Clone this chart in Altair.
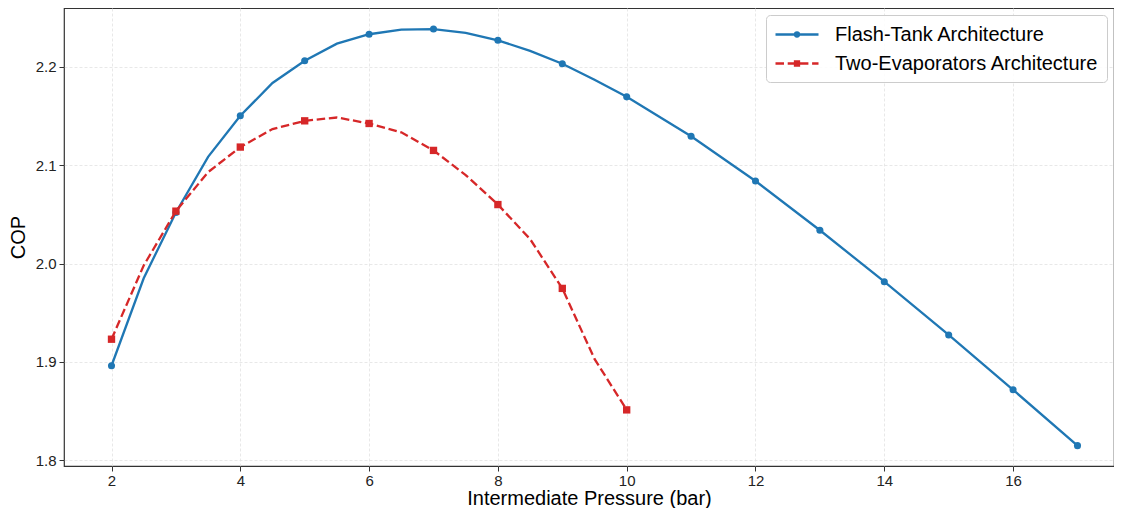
import altair as alt
import pandas as pd

# ---- data ----
ft_name = "Flash-Tank Architecture"
te_name = "Two-Evaporators Architecture"

ft_x = [2, 2.5, 3, 3.5, 4, 4.5, 5, 5.5, 6, 6.5, 7, 7.5, 8, 8.5, 9, 9.5, 10,
        11, 12, 13, 14, 15, 16, 17]
ft_y = [1.896, 1.985, 2.052, 2.1085, 2.1504, 2.1837, 2.2063, 2.2237, 2.2333,
        2.2381, 2.2386, 2.2348, 2.2271, 2.2164, 2.2033, 2.187, 2.1696,
        2.1295, 2.084, 2.0339, 1.9815, 1.9273, 1.8715, 1.8147]

te_x = [2, 2.5, 3, 3.5, 4, 4.5, 5, 5.5, 6, 6.5, 7, 7.5, 8, 8.5, 9, 9.5, 10]
te_y = [1.923, 1.998, 2.0533, 2.093, 2.1185, 2.1368, 2.1452, 2.1486, 2.1425,
        2.1335, 2.1151, 2.090, 2.060, 2.0249, 1.9747, 1.903, 1.8511]

x_ticks = [2, 4, 6, 8, 10, 12, 14, 16]
y_ticks = [1.8, 1.9, 2.0, 2.1, 2.2]

BLUE = "#1f77b4"
RED = "#d62728"
FONT = "Liberation Sans"

rows = []
for x, y in zip(ft_x, ft_y):
    rows.append({"series": ft_name, "x": x, "y": y, "marker": float(x).is_integer()})
for x, y in zip(te_x, te_y):
    rows.append({"series": te_name, "x": x, "y": y, "marker": float(x).is_integer()})
df = pd.DataFrame(rows)

xs = alt.Scale(domain=[1.2624, 17.567], nice=False, zero=False)
ys = alt.Scale(domain=[1.794, 2.260], nice=False, zero=False)

X = alt.X("x:Q", scale=xs, title="Intermediate Pressure (bar)",
          axis=alt.Axis(values=x_ticks, format="d"))
Y = alt.Y("y:Q", scale=ys, title="COP",
          axis=alt.Axis(values=y_ticks, format=".1f"))

base = alt.Chart(df)

ft_line = base.transform_filter(alt.datum.series == ft_name).mark_line(
    color=BLUE, strokeWidth=2.3).encode(x=X, y=Y, order="x:Q")
ft_pts = base.transform_filter((alt.datum.series == ft_name) & alt.datum.marker).mark_point(
    shape="circle", filled=True, color=BLUE, size=50, opacity=1).encode(x=X, y=Y)
te_line = base.transform_filter(alt.datum.series == te_name).mark_line(
    color=RED, strokeWidth=2.3, strokeDash=[8.5, 3.7]).encode(x=X, y=Y, order="x:Q")
te_pts = base.transform_filter((alt.datum.series == te_name) & alt.datum.marker).mark_point(
    shape="square", filled=True, color=RED, size=54, opacity=1).encode(x=X, y=Y)

# legend glyphs (unit = 10 px): line from -1.0 to 3.3 with marker at its middle
mc = 1.15
r = 0.2
path_ft = ("M-1,0H3.3M%.3f,0A%.3f,%.3f,0,1,1,%.3f,0A%.3f,%.3f,0,1,1,%.3f,0Z"
           % (mc + r, r, r, mc - r, r, r, mc + r))
s = 0.2
path_te = ("M-1,0H-0.15M0.22,0H1.07M1.44,0H2.29M2.66,0H3.3"
           "M%.3f,%.3fH%.3fV%.3fH%.3fZ" % (mc - s, -s, mc + s, s, mc - s))

names = [ft_name, te_name]
leg = alt.Legend(
    title=None, orient="top-right", offset=7, padding=8,
    fillColor="rgba(255,255,255,0.85)", strokeColor="#cccccc", cornerRadius=4,
    labelFont=FONT, labelFontSize=20, labelColor="#000000", labelOffset=38,
    labelLimit=0, rowPadding=7, symbolSize=400, symbolStrokeWidth=2.3,
)
legend_layer = base.transform_filter("false").mark_point(
    filled=True, opacity=1, strokeWidth=2.3).encode(
    x=X, y=Y,
    shape=alt.Shape("series:N", scale=alt.Scale(domain=names, range=[path_ft, path_te]), legend=leg),
    fill=alt.Fill("series:N", scale=alt.Scale(domain=names, range=[BLUE, RED]), legend=leg),
    stroke=alt.Stroke("series:N", scale=alt.Scale(domain=names, range=[BLUE, RED]), legend=leg),
)

chart = alt.layer(ft_line, ft_pts, te_line, te_pts, legend_layer).properties(
    width=1050, height=458,
    padding={"left": 0, "top": 0, "right": 0, "bottom": 0},
    background="white",
).configure_view(
    stroke="#333333", strokeWidth=1.2
).configure_axis(
    labelFont=FONT, labelFontSize=15, labelColor="#222222",
    titleFont=FONT, titleFontSize=20, titleFontWeight="normal", titleColor="#000000",
    domain=False, tickColor="#333333", tickSize=5, tickWidth=1,
    grid=True, gridColor="#e2e2e2", gridDash=[3, 2], gridWidth=0.8,
).configure_axisY(
    titlePadding=7, labelPadding=3
).configure_axisX(
    titlePadding=0, labelPadding=2
)

chart.save("out.html", embed_options={"renderer": "svg", "actions": False})
